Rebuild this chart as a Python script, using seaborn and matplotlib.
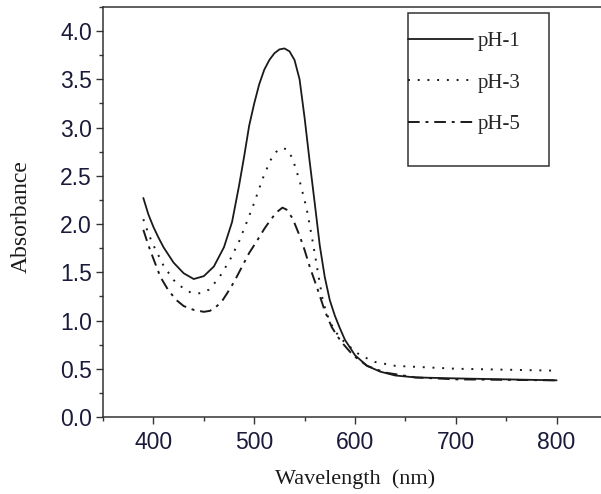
import matplotlib
matplotlib.use("Agg")
import matplotlib.pyplot as plt
import seaborn as sns
import pandas as pd
from matplotlib.lines import Line2D
from matplotlib.patches import Rectangle
from matplotlib.ticker import MultipleLocator

# absorbance spectra
wl_ph1 = [390, 395, 400, 405, 410, 420, 430, 440, 450, 460, 470, 478, 485, 490, 495,
          500, 505, 510, 515, 520, 525, 530, 535, 540, 545, 550, 555, 560, 565, 570,
          575, 580, 585, 590, 600, 612, 625, 640, 660, 700, 750, 800]
abs_ph1 = [2.27, 2.10, 1.97, 1.86, 1.76, 1.60, 1.49, 1.43, 1.46, 1.56, 1.76, 2.02, 2.40, 2.70, 3.02,
           3.25, 3.45, 3.60, 3.70, 3.77, 3.81, 3.82, 3.79, 3.70, 3.50, 3.10, 2.65, 2.22, 1.78, 1.45,
           1.21, 1.05, 0.92, 0.80, 0.64, 0.53, 0.47, 0.43, 0.41, 0.40, 0.39, 0.38]

wl_ph3 = [390, 395, 400, 410, 420, 430, 437, 444, 450, 455, 465, 476, 485, 493, 500,
          508, 516, 522, 528, 533, 538, 545, 552, 558, 564, 568, 572, 577, 583, 590,
          605, 620, 640, 700, 800]
abs_ph3 = [2.05, 1.90, 1.78, 1.57, 1.42, 1.33, 1.29, 1.28, 1.29, 1.32, 1.44, 1.63, 1.82, 2.03, 2.22,
           2.46, 2.66, 2.75, 2.79, 2.77, 2.68, 2.45, 2.16, 1.82, 1.45, 1.21, 1.07, 0.95, 0.85, 0.77,
           0.64, 0.57, 0.53, 0.50, 0.48]

wl_ph5 = [390, 395, 400, 407, 415, 423, 430, 440, 450, 456, 462, 468, 473, 480, 485,
          495, 503, 510, 516, 522, 528, 532, 538, 545, 550, 555, 563, 570, 577, 583,
          588, 598, 612, 630, 660, 700, 800]
abs_ph5 = [1.94, 1.78, 1.64, 1.45, 1.31, 1.21, 1.15, 1.11, 1.09, 1.10, 1.14, 1.20, 1.28, 1.40, 1.50,
           1.70, 1.83, 1.95, 2.04, 2.12, 2.17, 2.15, 2.06, 1.88, 1.73, 1.56, 1.32, 1.10, 0.93, 0.83,
           0.76, 0.64, 0.53, 0.46, 0.41, 0.39, 0.38]

labels = ["pH-1", "pH-3", "pH-5"]

df = pd.concat([
    pd.DataFrame({"Wavelength": wl_ph1, "Absorbance": abs_ph1, "sample": labels[0]}),
    pd.DataFrame({"Wavelength": wl_ph3, "Absorbance": abs_ph3, "sample": labels[1]}),
    pd.DataFrame({"Wavelength": wl_ph5, "Absorbance": abs_ph5, "sample": labels[2]}),
])

sns.set_style("ticks")
plt.rcParams["font.family"] = ["Liberation Sans", "DejaVu Sans"]

fig = plt.figure(figsize=(6.01, 4.94), dpi=100)
ax = fig.add_axes([0.1714, 0.1559, 0.8386, 0.8300])

styles = {"pH-1": "-", "pH-3": (0, (1, 4)), "pH-5": (0, (6, 3, 1.5, 3))}
widths = {"pH-1": 1.3, "pH-3": 1.4, "pH-5": 1.4}
handles = []
for name in labels:
    sub = df[df["sample"] == name]
    sns.lineplot(data=sub, x="Wavelength", y="Absorbance", ax=ax, color="#1a1a1a",
                 linestyle=styles[name], linewidth=widths[name], legend=False)
    handles.append(Line2D([], [], color="#1a1a1a", linestyle=styles[name], linewidth=widths[name]))

ax.set_xlim(350, 850)
ax.set_ylim(0, 4.25)
ax.xaxis.set_major_locator(MultipleLocator(100))
ax.xaxis.set_minor_locator(MultipleLocator(50))
ax.yaxis.set_major_locator(MultipleLocator(0.5))
ax.yaxis.set_minor_locator(MultipleLocator(0.25))
ax.set_xticks([400, 500, 600, 700, 800])
ax.set_yticks([0.0, 0.5, 1.0, 1.5, 2.0, 2.5, 3.0, 3.5, 4.0])
ax.set_yticklabels(["0.0", "0.5", "1.0", "1.5", "2.0", "2.5", "3.0", "3.5", "4.0"])

ax.tick_params(axis="both", which="major", direction="out", length=5, width=1,
               color="#333333", labelsize=16.5, labelcolor="#1a1a3a", pad=3)
ax.tick_params(axis="both", which="minor", direction="out", length=3, width=1, color="#333333")
ax.tick_params(axis="x", which="major", pad=5)

for s in ["left", "bottom", "top"]:
    ax.spines[s].set_color("#333333")
    ax.spines[s].set_linewidth(1.1)
ax.spines["right"].set_visible(False)

ax.set_xlabel("Wavelength  (nm)", family="Liberation Serif", fontsize=16, color="#1a1a1a")
ax.set_ylabel("Absorbance", family="Liberation Serif", fontsize=17, color="#1a1a1a")
ax.xaxis.set_label_coords(0.5, -0.128)
ax.yaxis.set_label_coords(-0.142, 0.49)

# legend with a box drawn separately (handles start at the frame edge)
handles.append(Line2D([], [], color="none"))
leg = fig.legend(handles, labels + [" "], loc="upper left",
                 bbox_to_anchor=(0.679, 0.936), bbox_transform=fig.transFigure,
                 frameon=False, borderpad=0, borderaxespad=0, handlelength=3.1,
                 handletextpad=0.25, labelspacing=1.05,
                 prop={"family": "Liberation Serif", "size": 15})
box = Rectangle((0.679, 0.664), 0.2346, 0.3097, transform=fig.transFigure,
                fill=False, edgecolor="#333333", linewidth=1.1)
fig.patches.append(box)

fig.savefig("out.png", dpi=100)
